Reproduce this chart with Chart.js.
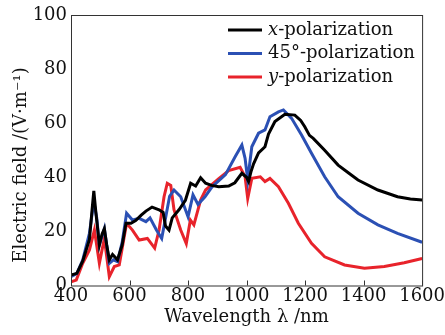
<!DOCTYPE html>
<html lang="en">
<head>
  <meta charset="UTF-8">
  <title>Electric field vs wavelength</title>
  <script src="https://cdn.jsdelivr.net/npm/chart.js"></script>
  <style>
    html, body { margin: 0; padding: 0; background: #fff; }
    #chart { display: block; }
  </style>
</head>
<body>
<canvas id="chart" width="445" height="335"></canvas>
<script>
  // values: [wavelength nm, field V/m]
  const xPol = [
    [400,3.9],[420,4.5],[440,9],[463,17],[472,28],[478,35],[485,27],[497,15],[506,19],[514,21],
    [522,15],[531,9.5],[542,11.5],[559,9.5],[575,15],[588,23],[605,23],[621,24],[640,26],[656,27.5],
    [677,29],[701,28],[715,27],[723,22],[735,20.5],[746,25],[769,28],[791,31.5],[809,37.8],[826,36.8],
    [843,39.8],[860,37.8],[880,37],[905,36.5],[939,36.8],[960,38],[984,41.5],[1000,40],[1007,38.5],
    [1015,42],[1024,45],[1041,49],[1063,51.3],[1075,56],[1097,60.6],[1131,63.3],[1165,63],[1185,61],
    [1199,58.7],[1215,55.5],[1228,54.4],[1267,50],[1313,44.5],[1350,41.5],[1381,39],[1449,35.3],
    [1516,32.8],[1560,32],[1600,31.6]
  ];
  const p45Pol = [
    [400,3.3],[420,4.5],[440,9.4],[463,19.3],[478,31],[488,25],[497,15],[514,21],[531,8.2],[545,9.5],
    [559,8.8],[575,16],[590,26.7],[610,24.2],[633,24.8],[656,23.6],[670,25],[692,20.5],[710,17.4],
    [724,25.4],[737,33],[752,35.3],[775,32.8],[800,25.4],[817,33.5],[834,30],[858,32.8],[882,36.5],
    [928,41],[961,47.6],[984,51.9],[995,47],[1004,39],[1018,51.3],[1041,56.3],[1063,57.5],[1080,62.4],
    [1109,64.2],[1126,64.9],[1154,61.8],[1188,55.6],[1222,48.9],[1267,40.2],[1313,32.8],[1381,26.7],
    [1449,22.4],[1516,19.3],[1600,16]
  ];
  const yPol = [
    [400,1.4],[418,2],[440,8.2],[463,13.1],[480,20.5],[497,8.2],[514,17.4],[531,3.3],[548,7],[565,7.6],
    [590,23],[610,20.5],[633,16.8],[661,17.4],[686,13.8],[701,20.5],[718,32.8],[729,37.8],[741,37],
    [752,28],[775,20.5],[794,15.5],[808,24.2],[820,22.4],[843,31.6],[860,35.3],[905,39.5],[939,42.5],
    [978,43.7],[995,40.2],[1004,32.2],[1018,39.6],[1047,40.2],[1063,38.4],[1080,39.6],[1109,36.5],
    [1143,30.4],[1177,23],[1222,15.6],[1267,10.6],[1335,7.6],[1403,6.4],[1471,7],[1539,8.4],[1600,10]
  ];
  const seriesLabels = ['x-polarization', '45°-polarization', 'y-polarization'];
  const seriesColors = ['#000000', '#2b50b4', '#e8232b'];
  const xTicks = [400, 600, 800, 1000, 1200, 1400, 1600];
  const xTitle = 'Wavelength λ /nm';
  const yTitle = 'Electric field /(V·m⁻¹)';

  const serif = "'DejaVu Serif', 'Liberation Serif', serif";
  const fontPx = 18;

  const toPts = arr => arr.map(p => ({ x: p[0], y: p[1] }));

  // box around the plot, inward ticks, axis titles and the legend
  const framePlugin = {
    id: 'frame',
    afterDatasetsDraw(chart) {
      const { ctx, chartArea: a, scales } = chart;
      ctx.save();
      ctx.strokeStyle = '#333';
      ctx.lineWidth = 1;
      ctx.strokeRect(a.left + 0.5, a.top + 0.5, a.right - a.left, a.bottom - a.top);
      ctx.beginPath();
      xTicks.forEach(v => {
        const px = Math.round(scales.x.getPixelForValue(v)) + 0.5;
        ctx.moveTo(px, a.bottom);
        ctx.lineTo(px, a.bottom - 5);
      });
      ctx.stroke();

      ctx.fillStyle = '#111';
      ctx.font = fontPx + 'px ' + serif;
      ctx.textAlign = 'center';
      ctx.textBaseline = 'middle';
      ctx.fillText(xTitle, (a.left + a.right) / 2, 317);
      ctx.save();
      ctx.translate(21, 165);
      ctx.rotate(-Math.PI / 2);
      ctx.fillText(yTitle, 0, 0);
      ctx.restore();

      // legend
      ctx.textAlign = 'left';
      chart.data.datasets.forEach((ds, i) => {
        const y = 30 + i * 23.5;
        ctx.strokeStyle = ds.borderColor;
        ctx.lineWidth = 3;
        ctx.beginPath();
        ctx.moveTo(228, y);
        ctx.lineTo(262, y);
        ctx.stroke();
        let x = 268;
        let text = ds.label;
        if (text[1] === '-') {
          ctx.font = 'italic ' + fontPx + 'px ' + serif;
          ctx.fillText(text[0], x, y);
          x += ctx.measureText(text[0]).width;
          text = text.slice(1);
          ctx.font = fontPx + 'px ' + serif;
        }
        ctx.fillText(text, x, y);
      });
      ctx.restore();
    }
  };

  new Chart(document.getElementById('chart'), {
    type: 'line',
    data: {
      datasets: [xPol, p45Pol, yPol].map((d, i) => ({
        label: seriesLabels[i],
        data: toPts(d),
        borderColor: seriesColors[i],
        backgroundColor: seriesColors[i],
        borderWidth: 3,
        pointRadius: 0,
        tension: 0,
        fill: false
      }))
    },
    options: {
      responsive: false,
      animation: false,
      layout: { padding: { top: 15, right: 21, left: 0, bottom: 0 } },
      plugins: { legend: { display: false }, tooltip: { enabled: false } },
      scales: {
        x: {
          type: 'linear',
          min: 400, max: 1600,
          afterBuildTicks: s => { s.ticks = xTicks.map(v => ({ value: v })); },
          afterFit: s => { s.height = 49.5; },
          grid: { display: false, drawTicks: false },
          border: { display: false },
          ticks: {
            color: '#111', padding: 0, maxRotation: 0,
            font: { family: serif, size: fontPx },
            callback: v => String(v)
          }
        },
        y: {
          min: 0, max: 100,
          ticks: { stepSize: 20, color: '#111', padding: 4, font: { family: serif, size: fontPx } },
          afterFit: s => { s.width = 71; },
          grid: { display: false, drawTicks: false },
          border: { display: false }
        }
      }
    },
    plugins: [framePlugin]
  });
</script>
</body>
</html>
